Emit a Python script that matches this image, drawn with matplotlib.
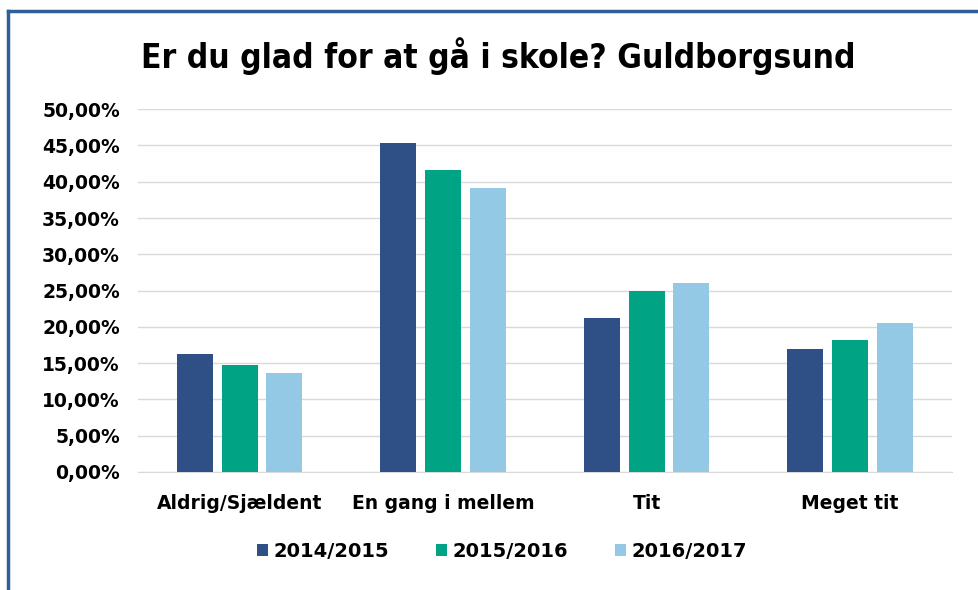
import matplotlib
matplotlib.use("Agg")
import matplotlib.pyplot as plt
import numpy as np
from matplotlib.lines import Line2D
from matplotlib.ticker import FuncFormatter

categories = ["Aldrig/Sjældent", "En gang i mellem", "Tit", "Meget tit"]
series_names = ["2014/2015", "2015/2016", "2016/2017"]
v2014 = [16.2, 45.4, 21.2, 17.0]
v2015 = [14.8, 41.6, 25.0, 18.2]
v2016 = [13.7, 39.1, 26.1, 20.6]
yticks = [0, 5, 10, 15, 20, 25, 30, 35, 40, 45, 50]
colors = ["#2E5086", "#00A383", "#93C9E5"]

plt.rcParams['font.family'] = ['DejaVu Sans']

fig = plt.figure(figsize=(9.79, 5.90), dpi=100)
ax = fig.add_axes([0.141, 0.2, 0.831, 0.615])

x = np.arange(len(categories))
width = 0.177
step = 0.22
for i, (vals, name, c) in enumerate(zip([v2014, v2015, v2016], series_names, colors)):
    ax.bar(x + (i - 1) * step, vals, width, color=c, label=name, zorder=3)

ax.set_ylim(0, 50)
ax.set_xlim(-0.5, len(categories) - 0.5)
ax.set_yticks(yticks)
ax.yaxis.set_major_formatter(FuncFormatter(lambda v, p: f"{v:.2f}%".replace(".", ",")))
ax.grid(axis="y", color="#D9D9D9", linewidth=1, zorder=0)
for s in ["top", "right", "left"]:
    ax.spines[s].set_visible(False)
ax.spines["bottom"].set_color("#D9D9D9")
ax.tick_params(axis="both", length=0)
ax.tick_params(axis="y", pad=13)
ax.tick_params(axis="x", pad=16)
ax.set_xticks(x)
ax.set_xticklabels(categories)
for lab in ax.get_yticklabels():
    lab.set_fontsize(13.5)
    lab.set_fontweight("bold")
    lab.set_color("#000000")
for lab in ax.get_xticklabels():
    lab.set_fontsize(13.5)
    lab.set_fontweight("bold")
    lab.set_color("#000000")

fig.text(0.509, 0.905, "Er du glad for at gå i skole? Guldborgsund", ha="center", va="center",
         fontsize=24, fontweight="bold", fontstretch="condensed", color="#000000")

leg = fig.legend(loc="center", bbox_to_anchor=(0.513, 0.066), ncol=3, frameon=False,
                 handlelength=0.55, handleheight=0.55, handletextpad=0.3, columnspacing=2.4,
                 prop={"size": 14, "weight": "bold"})

# blue frame lines (top and left)
fig.add_artist(Line2D([8.5 / 979, 1.0], [1 - 11.3 / 590, 1 - 11.3 / 590], color="#2F5F98", linewidth=2.5,
                      transform=fig.transFigure))
fig.add_artist(Line2D([8.5 / 979, 8.5 / 979], [0, 1 - 11.3 / 590], color="#2F5F98", linewidth=2.5,
                      transform=fig.transFigure))

fig.savefig("out.png", dpi=100, facecolor="white")
